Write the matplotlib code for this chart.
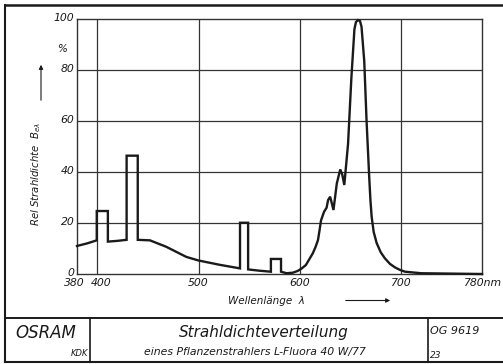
import matplotlib
matplotlib.use("Agg")
import matplotlib.pyplot as plt
from matplotlib.lines import Line2D

# ---- data ----
wavelength_nm = [380, 390, 399.5, 399.5, 410.5, 410.5, 420, 429, 429, 440, 440,
                 452, 468, 488, 500, 521, 541, 541, 549, 549, 560, 571.5, 571.5,
                 581.5, 581.5, 587, 593, 598, 602, 606, 609, 613, 615.5, 618,
                 619.5, 621, 624, 626.5, 628, 630, 631.5, 633.3, 636.6, 640,
                 642, 644, 647.7, 651, 654, 655.5, 657.5, 659.5, 661, 663.7,
                 666, 668.6, 669.8, 671, 673, 676, 680, 684, 689, 694, 699, 704,
                 720, 780]
rel_radiance = [11, 12, 13.2, 24.7, 24.7, 12.7, 13, 13.4, 46.4, 46.4, 13.4,
                13.2, 10.7, 6.7, 5.3, 3.6, 2.2, 20.1, 20.1, 1.8, 1.3, 0.9, 5.9,
                5.9, 0.9, 0.3, 0.5, 1.2, 2.2, 3.5, 5.5, 8.2, 10.5, 13.3,
                17, 21, 24.4, 26, 29, 30.3, 28, 25.1, 35.5, 41,
                39, 34.9, 51, 77, 96, 98.8, 99.6, 99.2, 97, 83.5,
                60, 38, 29, 22.5, 16.5, 12.1, 8.5, 6.2, 4, 2.6, 1.6, 0.9,
                0.3, 0]

x_grid = [400, 500, 600, 700]
y_grid = [20, 40, 60, 80]
x_tick_pos = [380, 400, 500, 600, 700, 780]
x_tick_lab = ["380", "400", "500", "600", "700", "780nm"]
y_tick_pos = [0, 20, 40, 60, 80, 100]
y_tick_lab = ["0", "20", "40", "60", "80", "100"]

W, H = 503, 364
fig = plt.figure(figsize=(W / 100, H / 100), dpi=100)
fig.patch.set_facecolor("white")
FONT = "DejaVu Sans"
INK = "#1a1a1a"


def fx(px):
    return px / W


def fy(py):
    return 1 - py / H


ax = fig.add_axes([fx(77), fy(274), fx(482) - fx(77), fy(19) - fy(274)])
ax.set_xlim(380, 780)
ax.set_ylim(0, 100)
for v in x_grid:
    ax.axvline(v, color="#333333", lw=0.9, zorder=1)
for v in y_grid:
    ax.axhline(v, color="#333333", lw=0.9, zorder=1)
ax.plot(wavelength_nm, rel_radiance, color=INK, lw=1.7, zorder=3,
        solid_joinstyle="miter", clip_on=False)
for s in ax.spines.values():
    s.set_color("#333333")
    s.set_linewidth(1.0)
ax.set_xticks([])
ax.set_yticks([])

# tick labels
for p, lab in zip(x_tick_pos, x_tick_lab):
    ha = "center"
    dx = 0
    if lab == "380":
        dx = -2
    if lab == "400":
        dx = 3
    if lab == "780nm":
        ha = "left"
        dx = -13
    ax.annotate(lab, (p, 0), xytext=(dx, -3), textcoords="offset points",
                ha=ha, va="top", fontsize=7.8, style="italic", family=FONT,
                color=INK)
for p, lab in zip(y_tick_pos, y_tick_lab):
    ax.annotate(lab, (380, p), xytext=(-2, 1), textcoords="offset points",
                ha="right", va="center", fontsize=7.8, style="italic",
                family=FONT, color=INK)

fig.text(fx(62), fy(49), "%", ha="center", va="center", fontsize=7.5,
         style="italic", family=FONT, color=INK)
fig.text(fx(36), fy(174), r"Rel Strahldichte  $B_{e\lambda}$", rotation=90,
         ha="center", va="center", fontsize=7.3, style="italic", family=FONT,
         color=INK)
fig.add_artist(matplotlib.patches.FancyArrowPatch(
    (fx(41), fy(103)), (fx(41), fy(62)), transform=fig.transFigure,
    arrowstyle="-|>", mutation_scale=6, lw=0.8, color=INK))

fig.text(fx(266), fy(301), "Wellenlänge  λ", ha="center", va="center",
         fontsize=7.5, style="italic", family=FONT, color=INK)
fig.add_artist(matplotlib.patches.FancyArrowPatch(
    (fx(343), fy(300.5)), (fx(393), fy(300.5)), transform=fig.transFigure,
    arrowstyle="-|>", mutation_scale=6, lw=0.8, color=INK))

# frame and title block
frame_lines = [
    ((5, 5), (503, 5), 1.8),
    ((5, 5), (5, 362), 1.5),
    ((5, 362), (503, 362), 1.5),
    ((5, 318), (503, 318), 1.4),
    ((90, 318), (90, 362), 1.2),
    ((428, 318), (428, 362), 1.2),
]
for (x0, y0), (x1, y1), lw in frame_lines:
    fig.add_artist(Line2D([fx(x0), fx(x1)], [fy(y0), fy(y1)],
                          transform=fig.transFigure, color=INK, lw=lw))

fig.text(fx(15), fy(332.5), "OSRAM", ha="left", va="center", fontsize=12,
         style="italic", family=FONT, color=INK)
fig.text(fx(88), fy(354), "KDK", ha="right", va="center", fontsize=6,
         style="italic", family=FONT, color=INK)
fig.text(fx(264), fy(333), "Strahldichteverteilung", ha="center",
         va="center", fontsize=11, style="italic", family=FONT, color=INK)
fig.text(fx(255), fy(352), "eines Pflanzenstrahlers L-Fluora 40 W/77",
         ha="center", va="center", fontsize=7.8, style="italic", family=FONT,
         color=INK)
fig.text(fx(430), fy(331), "OG 9619", ha="left", va="center", fontsize=8,
         style="italic", family=FONT, color=INK)
fig.text(fx(430), fy(355), "23", ha="left", va="center", fontsize=6.5,
         style="italic", family=FONT, color=INK)

fig.savefig("out.png", dpi=100)
